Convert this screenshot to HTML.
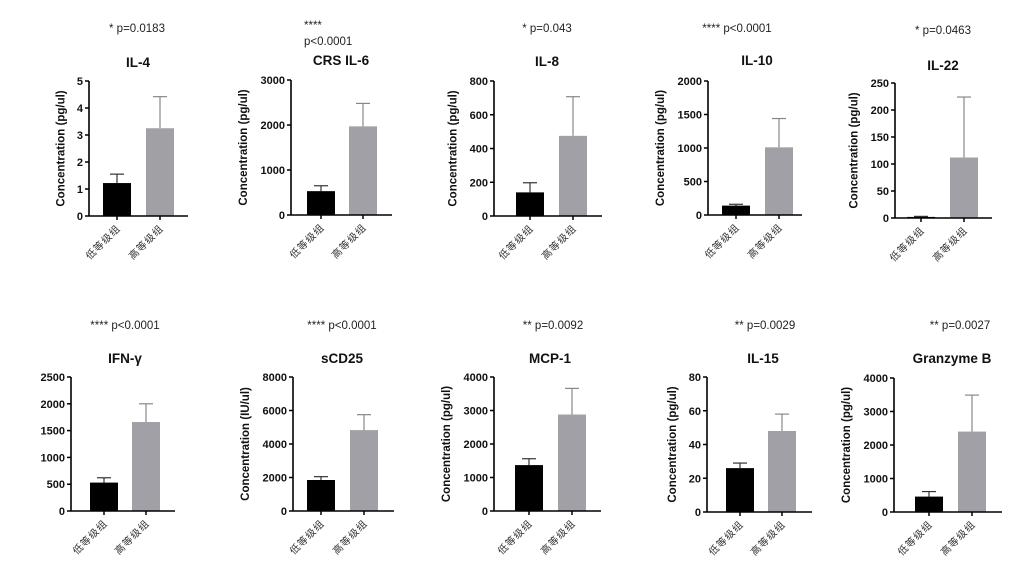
<!DOCTYPE html>
<html><head><meta charset="utf-8"><style>
html,body{margin:0;padding:0;background:#fff;}
svg{display:block;}
text{font-family:"Liberation Sans","Noto Sans CJK SC",sans-serif;}
</style></head><body>
<svg id="s" width="1024" height="575" viewBox="0 0 1024 575" xmlns="http://www.w3.org/2000/svg"></svg>
<script>
const P=[
 {t:"IL-4",p:["* p=0.0183"],pc:137,py:28,tc:138,ty:62,ax:89,top:81,bot:216,b1:103,b2:146,end:188,max:5,step:1,v:[1.22,3.25],e:[1.55,4.42],yl:"Concentration (pg/ul)"},
 {t:"CRS IL-6",p:["****","p<0.0001"],pl:304,py:25,tc:341,ty:60,ax:291,top:80,bot:215,b1:307,b2:349,end:392,max:3000,step:1000,v:[530,1970],e:[650,2480],yl:"Concentration (pg/ul)"},
 {t:"IL-8",p:["* p=0.043"],pc:547,py:28,tc:547,ty:61,ax:494,top:81,bot:216,b1:516,b2:559,end:602,max:800,step:200,v:[140,475],e:[197,707],yl:"Concentration (pg/ul)"},
 {t:"IL-10",p:["**** p<0.0001"],pc:737,py:28,tc:757,ty:60,ax:708,top:81,bot:215,b1:722,b2:765,end:802,max:2000,step:500,v:[140,1010],e:[160,1440],yl:"Concentration (pg/ul)"},
 {t:"IL-22",p:["* p=0.0463"],pc:943,py:30,tc:943,ty:65,ax:895,top:83,bot:218,b1:907,b2:950,end:992,max:250,step:50,v:[2,112],e:[3,224],yl:"Concentration (pg/ul)"},
 {t:"IFN-γ",p:["**** p<0.0001"],pc:125,py:325,tc:125,ty:358,ax:71,top:377,bot:511,b1:90,b2:132,end:175,max:2500,step:500,v:[530,1660],e:[620,2000],yl:"Concentration (pg/ul)",noyl:true},
 {t:"sCD25",p:["**** p<0.0001"],pc:342,py:325,tc:342,ty:358,ax:293,top:377,bot:511,b1:307,b2:350,end:394,max:8000,step:2000,v:[1850,4830],e:[2050,5750],yl:"Concentration (IU/ul)"},
 {t:"MCP-1",p:["** p=0.0092"],pc:553,py:325,tc:550,ty:358,ax:494,top:377,bot:511,b1:515,b2:558,end:601,max:4000,step:1000,v:[1370,2880],e:[1560,3660],yl:"Concentration (pg/ul)"},
 {t:"IL-15",p:["** p=0.0029"],pc:765,py:325,tc:763,ty:358,ax:707,top:377,bot:512,b1:726,b2:768,end:812,max:80,step:20,v:[26,48],e:[29,58],yl:"Concentration (pg/ul)"},
 {t:"Granzyme B",p:["** p=0.0027"],pc:960,py:325,tc:952,ty:358,ax:894,top:378,bot:512,b1:915,b2:958,end:1002,max:4000,step:1000,v:[460,2400],e:[610,3490],yl:"Concentration (pg/ul)"}
];
let h="";
const W=28;
for(const c of P){
 const y=v=>c.bot-(c.bot-c.top)*v/c.max;
 if(c.pl!==undefined){c.p.forEach((s,i)=>h+=`<text x="${c.pl}" y="${c.py+i*16+4}" font-size="11.5" fill="#222">${s}</text>`);}
 else h+=`<text x="${c.pc}" y="${c.py+4}" font-size="11.5" text-anchor="middle" fill="#222">${c.p[0]}</text>`;
 h+=`<text x="${c.tc}" y="${c.ty+5}" font-size="13.5" font-weight="bold" text-anchor="middle" fill="#111">${c.t}</text>`;
 const xs=[c.b1,c.b2],fill=["#000","#a0a0a6"],ec=["#333","#888"];
 for(let i=0;i<2;i++){
  const cx=xs[i]+W/2;
  h+=`<line x1="${cx}" y1="${y(c.e[i])}" x2="${cx}" y2="${y(c.v[i])}" stroke="${ec[i]}" stroke-width="1.2"/>`;
  h+=`<line x1="${cx-7}" y1="${y(c.e[i])}" x2="${cx+7}" y2="${y(c.e[i])}" stroke="${ec[i]}" stroke-width="1.2"/>`;
  h+=`<rect x="${xs[i]}" y="${y(c.v[i])}" width="${W}" height="${c.bot-y(c.v[i])}" fill="${fill[i]}"/>`;
  h+=`<line x1="${cx}" y1="${c.bot}" x2="${cx}" y2="${c.bot+4}" stroke="#000" stroke-width="1.5"/>`;
  h+=`<text transform="translate(${cx+4},${c.bot+13}) rotate(-45)" font-size="10" letter-spacing="1" text-anchor="end" fill="#333" font-family="'Noto Serif CJK SC',serif">${i?"高等级组":"低等级组"}</text>`;
 }
 h+=`<line x1="${c.ax}" y1="${c.top}" x2="${c.ax}" y2="${c.bot}" stroke="#000" stroke-width="1.6"/>`;
 h+=`<line x1="${c.ax}" y1="${c.bot}" x2="${c.end}" y2="${c.bot}" stroke="#000" stroke-width="1.6"/>`;
 for(let v=0;v<=c.max+1e-9;v+=c.step){
  const yy=y(v);
  h+=`<line x1="${c.ax-4}" y1="${yy}" x2="${c.ax}" y2="${yy}" stroke="#000" stroke-width="1.5"/>`;
  h+=`<text x="${c.ax-6}" y="${yy+4}" font-size="11" font-weight="bold" text-anchor="end" fill="#111">${v}</text>`;
 }
 if(!c.noyl){
  const lx=c.ax-(String(c.max).length*6.5+18);
  h+=`<text transform="translate(${lx},${(c.top+c.bot)/2}) rotate(-90)" font-size="11.5" font-weight="bold" text-anchor="middle" fill="#111">${c.yl}</text>`;
 }
}
document.getElementById("s").innerHTML=h;
</script>
</body></html>
